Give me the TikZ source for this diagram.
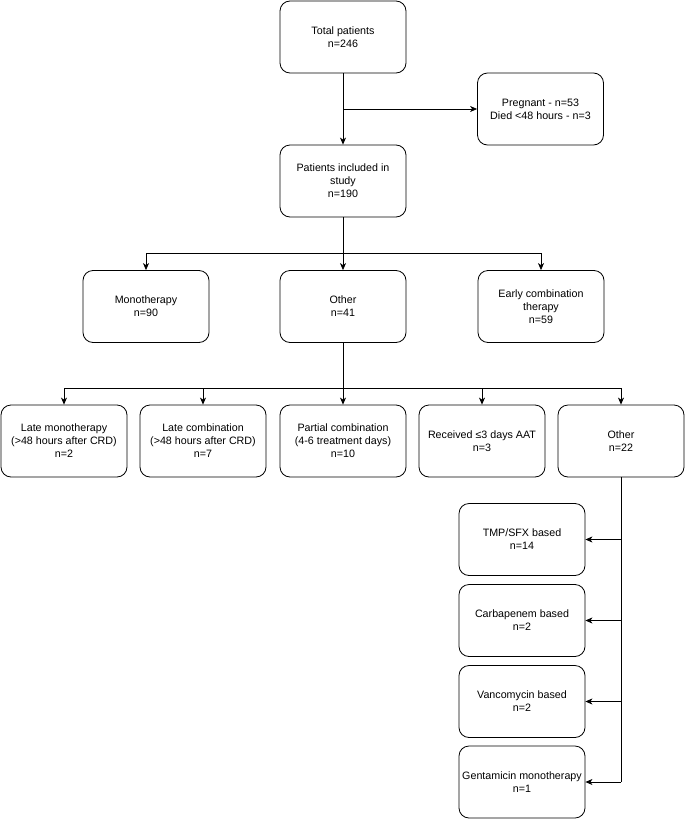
\documentclass[tikz,border=0pt]{standalone}
\usepackage{fontspec}
\setmainfont{Liberation Sans}
\usetikzlibrary{arrows.meta}
\begin{document}
\begin{tikzpicture}[x=1pt,y=-1pt,
  box/.style={draw, rounded corners=10pt, minimum width=126pt, minimum height=72pt,
    align=center, font=\fontsize{10.7}{13}\selectfont, line width=0.8pt, inner sep=1pt},
  arr/.style={-{Stealth[length=7pt,width=6pt,inset=2pt]}, line width=0.8pt},
  ln/.style={line width=0.8pt}]
\useasboundingbox (0,0) rectangle (685,819);
\node[box] (total) at (343,37) {Total patients\\n=246};
\node[box] (preg) at (540.5,109) {Pregnant - n=53\\Died <48 hours - n=3};
\node[box] (incl) at (343,181) {Patients included in\\study\\n=190};
\node[box] (mono) at (146,306.5) {Monotherapy\\n=90};
\node[box] (oth1) at (343,306.5) {Other\\n=41};
\node[box] (early) at (541,306.5) {Early combination\\therapy\\n=59};
\node[box] (lm) at (64,441) {Late monotherapy\\(>48 hours after CRD)\\n=2};
\node[box] (lc) at (203,441) {Late combination\\(>48 hours after CRD)\\n=7};
\node[box] (pc) at (343,441) {Partial combination\\(4-6 treatment days)\\n=10};
\node[box] (rec) at (482,441) {Received ≤3 days AAT\\n=3};
\node[box] (oth2) at (621,441) {Other\\n=22};
\node[box] (tmp) at (522,539.5) {TMP/SFX based\\n=14};
\node[box] (carb) at (522,620.5) {Carbapenem based\\n=2};
\node[box] (vanc) at (522,701.5) {Vancomycin based\\n=2};
\node[box] (gent) at (522,782) {Gentamicin monotherapy\\n=1};
\draw[arr] (total) -- (incl);
\coordinate (b1) at (343,109);
\draw[arr] (b1) -- (preg);
\coordinate (h1) at (343,253);
\draw[ln] (incl) -- (h1);
\draw[arr] (h1) -| (mono);
\draw[arr] (h1) -- (oth1);
\draw[arr] (h1) -| (early);
\coordinate (h2) at (343,388);
\draw[ln] (oth1) -- (h2);
\draw[arr] (h2) -| (lm);
\draw[arr] (h2) -| (lc);
\draw[arr] (h2) -- (pc);
\draw[arr] (h2) -| (rec);
\draw[arr] (h2) -| (oth2);
\coordinate (v) at (621,782);
\draw[ln] (oth2) -- (v);
\draw[arr] (tmp -| oth2) -- (tmp);
\draw[arr] (carb -| oth2) -- (carb);
\draw[arr] (vanc -| oth2) -- (vanc);
\draw[arr] (v) -- (gent);
\end{tikzpicture}
\end{document}
